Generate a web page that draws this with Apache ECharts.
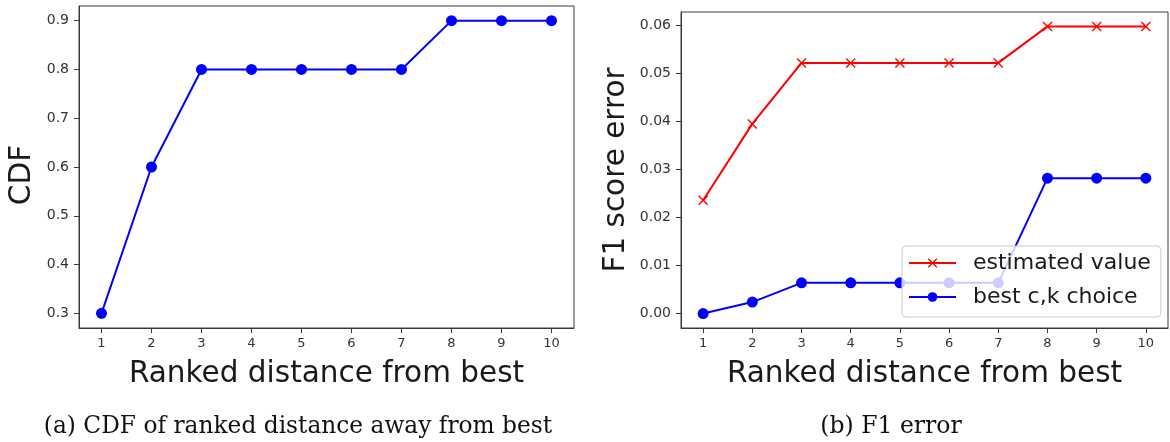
<!DOCTYPE html>
<html>
<head>
<meta charset="utf-8">
<script src="https://cdn.jsdelivr.net/npm/echarts@6/dist/echarts.min.js"></script>
<style>
  html, body { margin: 0; padding: 0; background: #fff; }
  #chart { width: 1170px; height: 442px; }
</style>
</head>
<body>
<div id="chart"></div>
<script>
// Rank of the chosen (c,k) pair relative to the best one
const ranks = [1, 2, 3, 4, 5, 6, 7, 8, 9, 10];

// Panel (a): cumulative fraction of runs within each rank
const cdfValues = [0.3, 0.6, 0.8, 0.8, 0.8, 0.8, 0.8, 0.9, 0.9, 0.9];
const cdfTicks = [0.3, 0.4, 0.5, 0.6, 0.7, 0.8, 0.9];

// Panel (b): F1 score error
const estimatedValue = [0.0236, 0.0395, 0.0522, 0.0522, 0.0522, 0.0522, 0.0522, 0.0598, 0.0598, 0.0598];
const bestChoice = [0.0, 0.0024, 0.0064, 0.0064, 0.0064, 0.0064, 0.0064, 0.0282, 0.0282, 0.0282];
const f1Ticks = [0.00, 0.01, 0.02, 0.03, 0.04, 0.05, 0.06];

const captions = ['(a) CDF of ranked distance away from best', '(b) F1 error'];

const sans = 'DejaVu Sans';
const serif = 'DejaVu Serif';
const crossSymbol = 'path://M1,0 L5,4 L9,0 L10,1 L6,5 L10,9 L9,10 L5,6 L1,10 L0,9 L4,5 L0,1 Z';

function xAxisFor(gridIndex) {
  return {
    type: 'value', gridIndex,
    min: 0.55, max: 10.45,
    name: 'Ranked distance from best',
    nameLocation: 'middle', nameGap: 31,
    nameTextStyle: { fontFamily: sans, fontSize: 29.5, color: '#1a1a1a' },
    axisLine: { show: true, onZero: false, lineStyle: { color: '#3a3a3a', width: 1 } },
    axisTick: { show: true, length: 5, customValues: ranks, lineStyle: { color: '#3a3a3a' } },
    axisLabel: { customValues: ranks, margin: 9, fontFamily: sans, fontSize: 13, color: '#333' },
    splitLine: { show: false }
  };
}

function yAxisFor(gridIndex, min, max, ticks, digits, name, gap, namePadding) {
  return {
    type: 'value', gridIndex, min, max,
    name, nameLocation: 'middle', nameGap: gap,
    nameTextStyle: { fontFamily: sans, fontSize: 29.5, color: '#1a1a1a', padding: namePadding },
    axisLine: { show: true, onZero: false, lineStyle: { color: '#3a3a3a', width: 1 } },
    axisTick: { show: true, length: 5, customValues: ticks, lineStyle: { color: '#3a3a3a' } },
    axisLabel: {
      customValues: ticks, margin: 10, fontFamily: sans, fontSize: 14, color: '#333',
      formatter: v => v.toFixed(digits)
    },
    splitLine: { show: false }
  };
}

const chart = echarts.init(document.getElementById('chart'), null, { renderer: 'canvas' });

chart.setOption({
  backgroundColor: '#fff',
  animation: false,
  title: [
    { text: captions[0], left: 293, top: 410, textAlign: 'center',
      textStyle: { fontFamily: serif, fontSize: 23.3, fontWeight: 'normal', color: '#111' } },
    { text: captions[1], left: 886, top: 410, textAlign: 'center',
      textStyle: { fontFamily: serif, fontSize: 23.5, fontWeight: 'normal', color: '#111' } }
  ],
  grid: [
    { left: 79, top: 6, right: 596, bottom: 114, show: true, borderColor: '#3a3a3a', borderWidth: 1, backgroundColor: 'transparent' },
    { left: 681, top: 12, right: 2, bottom: 114, show: true, borderColor: '#3a3a3a', borderWidth: 1, backgroundColor: 'transparent' }
  ],
  xAxis: [xAxisFor(0), xAxisFor(1)],
  yAxis: [
    yAxisFor(0, 0.27, 0.93, cdfTicks, 1, 'CDF', 42, [0, 16, 0, 0]),
    yAxisFor(1, -0.003, 0.0628, f1Ticks, 2, 'F1 score error', 50, 0)
  ],
  legend: {
    data: ['estimated value', 'best c,k choice'],
    orient: 'vertical',
    left: 902, top: 246,
    padding: [6, 10, 9, 6],
    itemWidth: 47, itemHeight: 12, itemGap: 12,
    backgroundColor: 'rgba(255,255,255,0.8)',
    borderColor: '#cccccc', borderWidth: 1, borderRadius: 4,
    textStyle: { fontFamily: sans, fontSize: 22, color: '#1a1a1a', padding: [0, 0, 0, 12] }
  },
  series: [
    {
      name: 'CDF', type: 'line', xAxisIndex: 0, yAxisIndex: 0,
      data: ranks.map((r, i) => [r, cdfValues[i]]),
      symbol: 'circle', symbolSize: 11,
      lineStyle: { color: '#0000ff', width: 2 },
      itemStyle: { color: '#0000ff' }
    },
    {
      name: 'estimated value', type: 'line', xAxisIndex: 1, yAxisIndex: 1,
      data: ranks.map((r, i) => [r, estimatedValue[i]]),
      symbol: crossSymbol, symbolSize: 10,
      lineStyle: { color: '#ff0000', width: 2 },
      itemStyle: { color: '#ff0000' }
    },
    {
      name: 'best c,k choice', type: 'line', xAxisIndex: 1, yAxisIndex: 1,
      data: ranks.map((r, i) => [r, bestChoice[i]]),
      symbol: 'circle', symbolSize: 11,
      lineStyle: { color: '#0000ff', width: 2 },
      itemStyle: { color: '#0000ff' }
    }
  ]
});
</script>
</body>
</html>
